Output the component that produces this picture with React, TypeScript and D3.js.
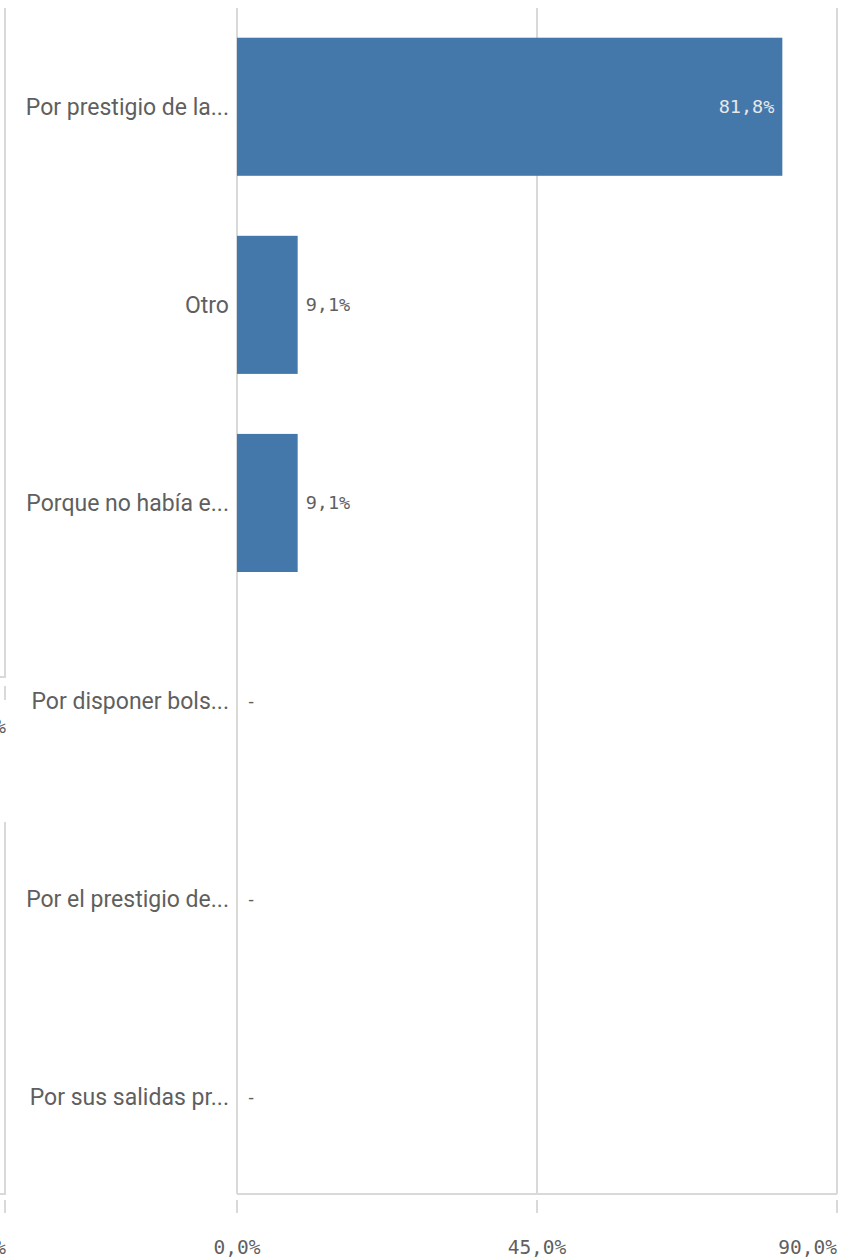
import React from "react";
import * as d3 from "d3";

const categories = [
  "Por prestigio de la...",
  "Otro",
  "Porque no había e...",
  "Por disponer bols...",
  "Por el prestigio de...",
  "Por sus salidas pr...",
];
const values = [81.8, 9.1, 9.1, 0, 0, 0];
const tickValues = [0, 45, 90];

const W = 868;
const H = 1260;
const fmt = (v: number) => v.toFixed(1).replace(".", ",") + "%";

export default function App() {
  const x = d3.scaleLinear().domain([0, 90]).range([237, 837]);
  const y = d3.scaleBand<string>().domain(categories).range([8, 1196]).paddingInner(0.303).paddingOuter(0.15);
  const grid = "#d9d9d9";
  const labelColor = "#5f5f5f";
  const axisY = 1194;
  const bw = y.bandwidth();
  const mono = "'DejaVu Sans Mono', monospace";
  return (
    <svg
      width={W}
      height={H}
      style={{ position: "fixed", left: 0, top: 0, background: "#fff" }}
      fontFamily="Roboto, 'Noto Sans', sans-serif"
    >
      {/* fragment of neighbouring chart at the left edge */}
      <g stroke={grid} strokeWidth={2} fill="none">
        <path d="M5,8 V677 H0" />
        <line x1={5} x2={5} y1={686} y2={700} />
        <path d="M5,822 V1194 H0" />
        <line x1={5} x2={5} y1={1200} y2={1213} />
      </g>
      <text x={6} y={733} textAnchor="end" fontSize={19} fill={labelColor} fontFamily={mono}>
        0%
      </text>
      <text x={6} y={1254} textAnchor="end" fontSize={19} fill={labelColor} fontFamily={mono}>
        0%
      </text>

      {/* gridlines */}
      {tickValues.map((t) => (
        <line key={"g" + t} x1={x(t)} x2={x(t)} y1={8} y2={axisY} stroke={grid} strokeWidth={2} />
      ))}
      {/* axis line */}
      <line x1={x(0)} x2={x(90)} y1={axisY} y2={axisY} stroke={grid} strokeWidth={2} />
      {/* ticks */}
      {tickValues.map((t) => (
        <line key={"t" + t} x1={x(t)} x2={x(t)} y1={1200} y2={1213} stroke={grid} strokeWidth={2} />
      ))}
      {tickValues.map((t, i) => (
        <text
          key={"l" + t}
          x={x(t)}
          y={1254}
          textAnchor={i === tickValues.length - 1 ? "end" : "middle"}
          fontSize={19.5}
          fill={labelColor}
          fontFamily={mono}
        >
          {fmt(t)}
        </text>
      ))}

      {/* bars */}
      {categories.map((c, i) => {
        const v = values[i];
        const y0 = y(c)!;
        const cy = y0 + bw / 2;
        const inside = x(v) - x(0) > 120;
        return (
          <g key={c}>
            {v > 0 && (
              <rect x={x(0)} y={y0} width={x(v) - x(0)} height={bw} fill="#4477aa" />
            )}
            <text x={229} y={cy} dy="0.35em" textAnchor="end" fontSize={23} fill={labelColor}>
              {c}
            </text>
            {v > 0 ? (
              <text
                x={inside ? x(v) - 8 : x(v) + 8}
                y={cy}
                dy="0.35em"
                textAnchor={inside ? "end" : "start"}
                fontSize={18.5}
                fill={inside ? "#e8e8e8" : labelColor}
                fontFamily={mono}
              >
                {fmt(v)}
              </text>
            ) : (
              <text x={x(0) + 9} y={cy} dy="0.35em" fontSize={17} fill={labelColor} fontFamily={mono}>
                -
              </text>
            )}
          </g>
        );
      })}
    </svg>
  );
}
